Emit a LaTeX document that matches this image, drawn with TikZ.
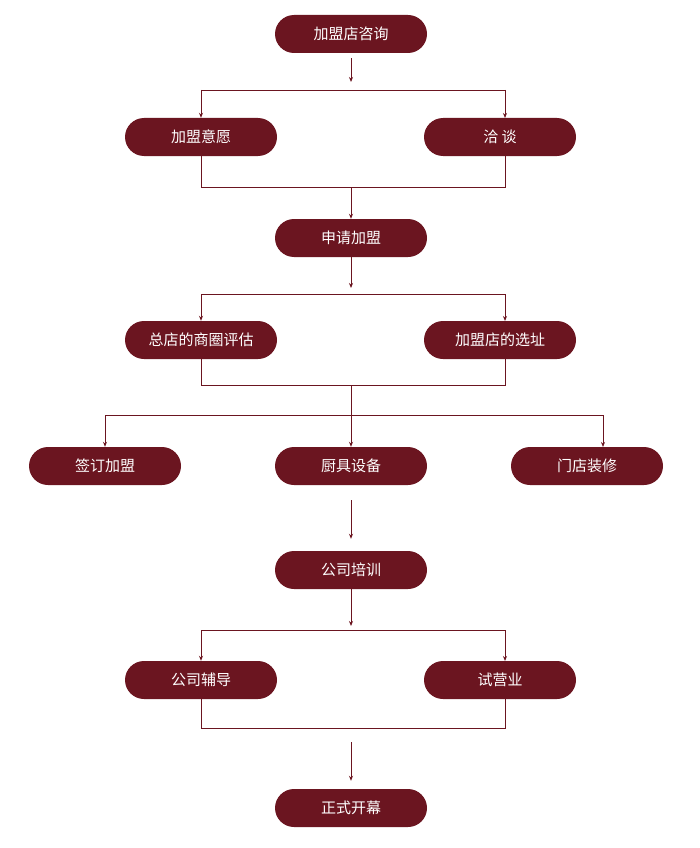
\documentclass[tikz,border=0pt]{standalone}
\usepackage{fontspec}
\setmainfont{Noto Sans CJK SC}
\usetikzlibrary{arrows.meta,calc}
\definecolor{wine}{HTML}{6B1520}
\tikzset{pill/.style={fill=wine,text=white,rounded corners=19pt,minimum width=152pt,minimum height=38pt,inner sep=0pt,font=\fontsize{15}{15}\selectfont},
ln/.style={draw=wine,line width=0.9pt},
ar/.style={ln,-{Stealth[length=5pt,width=4pt]}}}
\begin{document}
\begin{tikzpicture}[x=1pt,y=-1pt]
\useasboundingbox (0,0) rectangle (700,848);
\node[pill] (a) at (351,34) {加盟店咨询};
\node[pill] (b1) at (201,137) {加盟意愿};
\node[pill] (b2) at (500,137) {洽\ 谈};
\node[pill] (c) at (351,238) {申请加盟};
\node[pill] (d1) at (201,340) {总店的商圈评估};
\node[pill] (d2) at (500,340) {加盟店的选址};
\node[pill] (e1) at (105,466) {签订加盟};
\node[pill] (e2) at (351,466) {厨具设备};
\node[pill] (e3) at (587,466) {门店装修};
\node[pill] (f) at (351,570) {公司培训};
\node[pill] (g1) at (201,680) {公司辅导};
\node[pill] (g2) at (500,680) {试营业};
\node[pill] (h) at (351,808) {正式开幕};
\coordinate (j1) at (351,90);
\coordinate (j2) at (351,187);
\coordinate (j3) at (351,294);
\coordinate (j4) at (351,385);
\coordinate (j5) at (351,415);
\coordinate (j6) at (351,630);
\coordinate (j7) at (351,728);
% row 1
\draw[ar] ($(a.south)+(0,5)$) -- ($(j1)+(0,-8)$);
\draw[ln] (201,90) -- (505,90);
\draw[ar] (201,90) -- (b1.north);
\draw[ar] (505,90) -- (505,118);
\draw[ln] (201,156) -- (201,187) -- (505,187) -- (505,156);
\draw[ar] (j2) -- (c.north);
% row 2
\draw[ar] (c.south) -- ($(j3)+(0,-6)$);
\draw[ln] (201,294) -- (505,294);
\draw[ar] (201,294) -- (d1.north);
\draw[ar] (505,294) -- (505,321);
\draw[ln] (201,359) -- (201,385) -- (505,385) -- (505,359);
\draw[ln] (j4) -- (j5);
\draw[ln] (105,415) -- (603,415);
\draw[ar] (105,415) -- (e1.north);
\draw[ar] (j5) -- (e2.north);
\draw[ar] (603,415) -- (603,447);
\draw[ar] ($(e2.south)+(0,15)$) -- ($(f.north)+(0,-12)$);
% row 3
\draw[ar] (f.south) -- ($(j6)+(0,-4)$);
\draw[ln] (201,630) -- (505,630);
\draw[ar] (201,630) -- (g1.north);
\draw[ar] (505,630) -- (505,661);
\draw[ln] (201,699) -- (201,728) -- (505,728) -- (505,699);
\draw[ar] ($(j7)+(0,14)$) -- ($(h.north)+(0,-8)$);
\end{tikzpicture}
\end{document}
